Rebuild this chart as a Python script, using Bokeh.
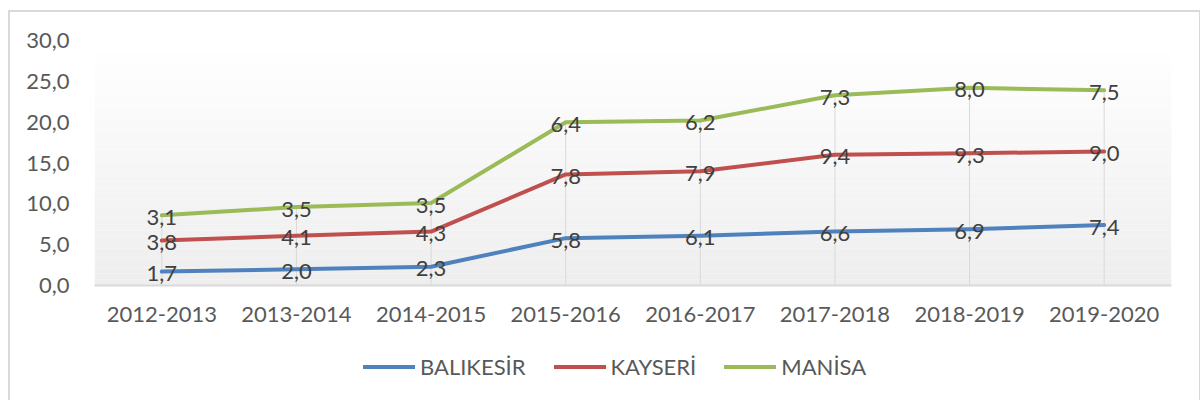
from bokeh.plotting import figure
from bokeh.layouts import column
from bokeh.models import (FactorRange, Range1d, FixedTicker, CustomJSTickFormatter,
                          Legend, LegendItem, BoxAnnotation, ColumnDataSource)
from bokeh.core.properties import value
from bokeh.embed import file_html
from bokeh.resources import INLINE

years = ["2012-2013", "2013-2014", "2014-2015", "2015-2016",
         "2016-2017", "2017-2018", "2018-2019", "2019-2020"]
balikesir = [1.7, 2.0, 2.3, 5.8, 6.1, 6.6, 6.9, 7.4]
kayseri = [3.8, 4.1, 4.3, 7.8, 7.9, 9.4, 9.3, 9.0]
manisa = [3.1, 3.5, 3.5, 6.4, 6.2, 7.3, 8.0, 7.5]
series_names = ["BALIKESİR", "KAYSERİ", "MANİSA"]
series_colors = ["#4f81bd", "#c0504d", "#9bbb59"]
y_ticks = [0, 5, 10, 15, 20, 25, 30]

FONT = "Lato"
FS = "22px"

# stacked line positions
s1 = list(balikesir)
s2 = [a + b for a, b in zip(s1, kayseri)]
s3 = [a + b for a, b in zip(s2, manisa)]
stacks = [s1, s2, s3]
raw = [balikesir, kayseri, manisa]

p = figure(x_range=FactorRange(*years, range_padding=0), y_range=Range1d(0, 30),
           width=1189, height=328,
           output_backend="svg", toolbar_location=None,
           min_border_left=84, min_border_right=28, min_border_top=28, min_border_bottom=55)
p.outline_line_color = None
p.xgrid.visible = False
p.ygrid.visible = False
p.background_fill_color = "white"

# gradient plot-area background
n = 40
for i in range(n):
    t = i / (n - 1)
    c = int(round(0xee + (0xff - 0xee) * t))
    col = "#%02x%02x%02x" % (c, c, c)
    p.add_layout(BoxAnnotation(bottom=30 * i / n, top=30 * (i + 1) / n,
                               fill_color=col, fill_alpha=1, line_color=None,
                               level="underlay"))

# drop lines
p.segment(x0=years, y0=[0] * len(years), x1=years, y1=s3,
          line_color="#d9d9d9", line_width=1)

for st, col in zip(stacks, series_colors):
    p.line(x=years, y=st, line_color=col, line_width=4,
           line_join="round", line_cap="round")

for st, rv in zip(stacks, raw):
    src = ColumnDataSource(dict(x=years, y=st,
                                t=[("%.1f" % v).replace(".", ",") for v in rv]))
    p.text(x="x", y="y", text="t", source=src, text_font=value(FONT),
           text_font_size=FS, text_color="#404040",
           text_align="center", text_baseline="middle", y_offset=2)

# axes
p.yaxis.ticker = FixedTicker(ticks=y_ticks)
p.yaxis.formatter = CustomJSTickFormatter(code="return tick.toFixed(1).replace('.', ',');")
p.yaxis.axis_line_color = None
p.yaxis.major_tick_line_color = None
p.yaxis.minor_tick_line_color = None
p.yaxis.major_label_standoff = 19
p.yaxis.major_label_text_font = FONT
p.yaxis.major_label_text_font_size = FS
p.yaxis.major_label_text_color = "#595959"

p.xaxis.axis_line_color = "#d9d9d9"
p.xaxis.axis_line_width = 2
p.xaxis.major_tick_line_color = None
p.xaxis.minor_tick_line_color = None
p.xaxis.major_label_standoff = 15
p.xaxis.major_label_text_font = FONT
p.xaxis.major_label_text_font_size = FS
p.xaxis.major_label_text_color = "#595959"

# legend strip (its frame is aligned with the chart frame by the column layout)
lp = figure(width=1189, height=60, x_range=Range1d(0, 1), y_range=Range1d(0, 1),
            x_axis_type=None, y_axis_type=None, output_backend="svg",
            toolbar_location=None, min_border=0)
lp.outline_line_color = None
lp.xgrid.visible = False
lp.ygrid.visible = False
nan = float("nan")
leg_r = [lp.line(x=[nan, nan], y=[nan, nan], line_color=c, line_width=4, line_cap="round")
         for c in series_colors]
legend = Legend(items=[LegendItem(label=nm, renderers=[r]) for nm, r in zip(series_names, leg_r)],
                orientation="horizontal", location=(269, 20),
                padding=0, margin=0, spacing=28, label_standoff=5,
                glyph_width=52, glyph_height=21, label_height=21,
                label_text_font=FONT, label_text_font_size=FS,
                label_text_color="#595959", border_line_color=None,
                background_fill_alpha=0)
lp.add_layout(legend, "center")

layout = column(p, lp, spacing=0, margin=(10, 0, 0, 8),
                styles={"border-top": "2px solid #d9d9d9", "border-left": "2px solid #d9d9d9",
                        "border-right": "2px solid #d9d9d9"})

open("out.html", "w").write(file_html(layout, INLINE))
